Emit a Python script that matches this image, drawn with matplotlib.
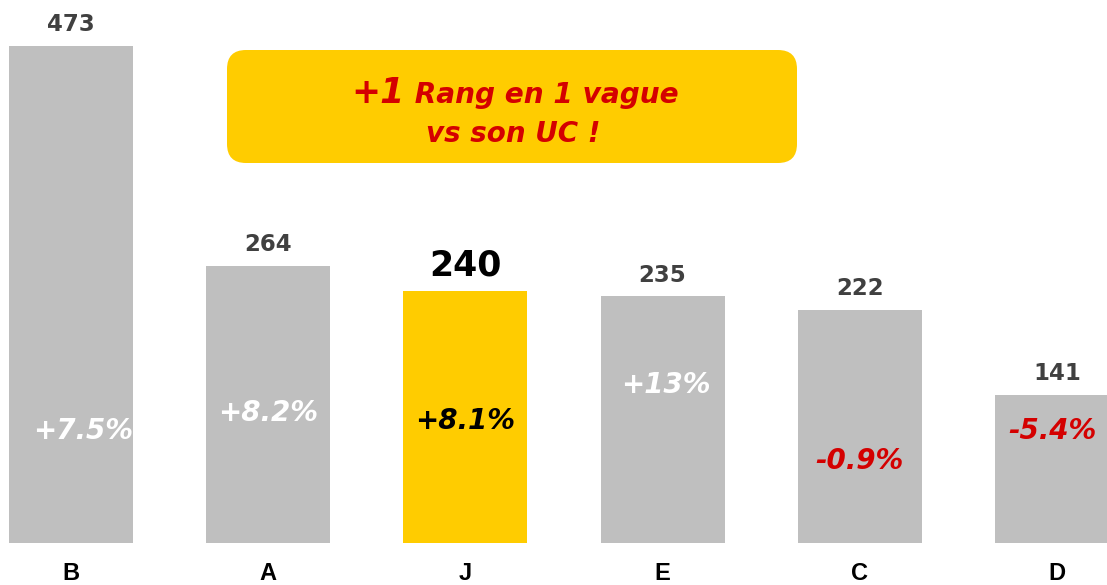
import matplotlib
matplotlib.use("Agg")
import matplotlib.pyplot as plt
from matplotlib.patches import FancyBboxPatch

categories = ["B", "A", "J", "E", "C", "D"]
values = [473, 264, 240, 235, 222, 141]
pct_labels = ["+7.5%", "+8.2%", "+8.1%", "+13%", "-0.9%", "-5.4%"]
pct_y = [107, 124, 116, 150, 78, 107]
pct_dx = [0.06, 0.0, 0.0, 0.015, 0.0, -0.025]
pct_colors = ["white", "white", "black", "white", "#D40000", "#D40000"]
highlight = "J"

GRAY = "#BFBFBF"
GOLD = "#FFCC00"
RED = "#D40000"

plt.rcParams['font.family'] = ['DejaVu Sans']
W, H = 1107, 585
fig = plt.figure(figsize=(W / 100, H / 100), dpi=100)
ax = fig.add_axes([0, (H - 543) / H, 1, 543 / H])

x = list(range(len(categories)))
colors = [GOLD if c == highlight else GRAY for c in categories]
ax.bar(x, values, width=0.629, color=colors)

ax.set_xlim(-0.36, 5.254)
ax.set_ylim(0, 516.8)
for s in ax.spines.values():
    s.set_visible(False)
ax.set_yticks([])
ax.set_xticks(x)
ax.set_xticklabels(categories, fontsize=17, fontweight='bold', color='black',
                   family=['Liberation Sans', 'DejaVu Sans'])
ax.tick_params(axis='x', length=0, pad=14)

for xi, v, c in zip(x, values, categories):
    if c == highlight:
        ax.annotate(str(v), (xi, v), xytext=(0, 11), textcoords='offset points',
                    ha='center', va='baseline', fontsize=25, fontweight='bold', color='black')
    else:
        ax.annotate(str(v), (xi, v), xytext=(0, 10.5), textcoords='offset points',
                    ha='center', va='baseline', fontsize=16.5, fontweight='bold', color='#404040')

for xi, lab, py, dx, pc in zip(x, pct_labels, pct_y, pct_dx, pct_colors):
    ax.text(xi + dx, py, lab, ha='center', va='center', fontsize=20,
            fontweight='bold', fontstyle='italic', color=pc)

# overlay axes in pixel coordinates for the callout box
ov = fig.add_axes([0, 0, 1, 1], zorder=5)
ov.set_xlim(0, W)
ov.set_ylim(H, 0)
ov.axis('off')
bx0, by0, bx1, by1 = 227, 50, 797, 163
box = FancyBboxPatch((bx0, by0), bx1 - bx0, by1 - by0,
                     boxstyle="round,pad=0,rounding_size=19",
                     facecolor=GOLD, edgecolor='none')
ov.add_patch(box)

t1 = ov.text(0, 0, "+1", fontsize=25, fontweight='bold', fontstyle='italic', color=RED,
             ha='left', va='baseline')
t2 = ov.text(0, 0, " Rang en 1 vague", fontsize=20.2, fontweight='bold', fontstyle='italic',
             color=RED, ha='left', va='baseline')
fig.canvas.draw()
r = fig.canvas.get_renderer()
w1 = t1.get_window_extent(r).width
w2 = t2.get_window_extent(r).width
cx = 515
start = cx - (w1 + w2) / 2
base1 = 103
t1.set_position((start, base1))
t2.set_position((start + w1, base1))
ov.text(513, 142, "vs son UC !", fontsize=20, fontweight='bold',
        fontstyle='italic', color=RED, ha='center', va='baseline')

fig.savefig("out.png", dpi=100)
